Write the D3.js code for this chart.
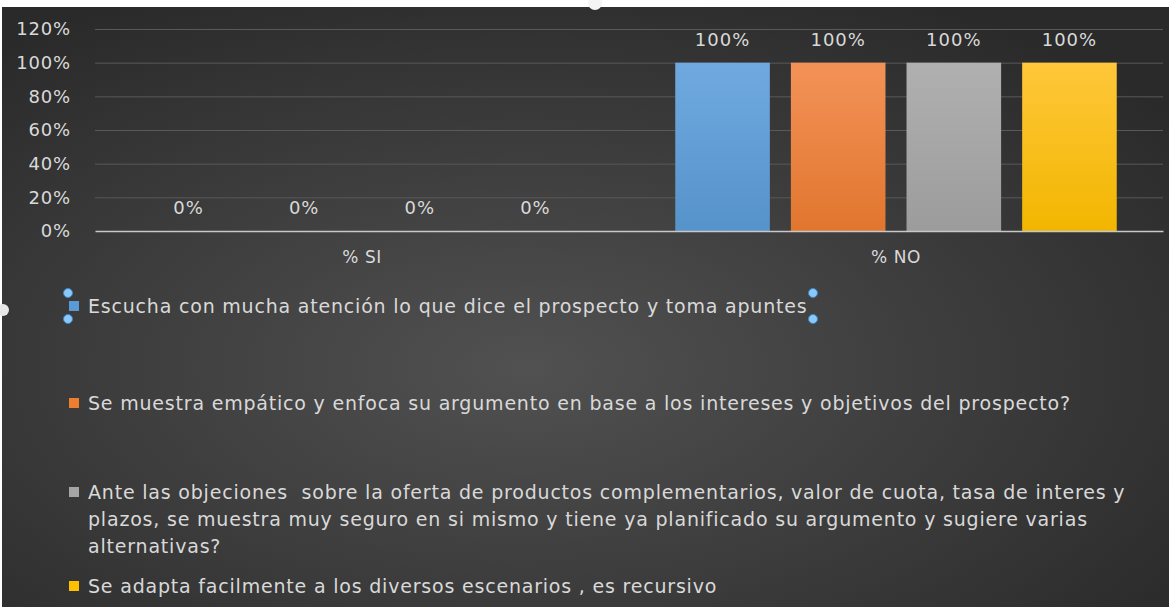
<!DOCTYPE html>
<html>
<head>
<meta charset="utf-8">
<script src="https://cdn.jsdelivr.net/npm/d3@7"></script>
<style>
  html, body { margin: 0; padding: 0; background: #ffffff; }
  svg { display: block; }
  text { font-family: "DejaVu Sans", "Open Sans", sans-serif; fill: #d9d9d9; }
</style>
</head>
<body>
<svg id="chart"></svg>
<script>
// Kategorien (x-Achse) und Serien (Legende)
const categories = ["% SI", "% NO"];
const seriesLabels = [
  "Escucha con mucha atención lo que dice el prospecto y toma apuntes",
  "Se muestra empático y enfoca su argumento en base a los intereses y objetivos del prospecto?",
  "Ante las objeciones  sobre la oferta de productos complementarios, valor de cuota, tasa de interes y plazos, se muestra muy seguro en si mismo y tiene ya planificado su argumento y sugiere varias alternativas?",
  "Se adapta facilmente a los diversos escenarios , es recursivo"
];
// Werte je Serie: [% SI, % NO]
const seriesValues = [
  [0, 1],
  [0, 1],
  [0, 1],
  [0, 1]
];
const yTicks = [0, 0.2, 0.4, 0.6, 0.8, 1.0, 1.2];

const W = 1169, H = 607;
const colors = ["#5b9bd5", "#ed7d31", "#a5a5a5", "#ffc000"];
const colorsTop = ["#6fa9e0", "#f39258", "#b0b0b0", "#ffc73a"];

const svg = d3.select("#chart").attr("width", W).attr("height", H);
const defs = svg.append("defs");

// Hintergrund (dunkler Radialverlauf)
const bg = defs.append("radialGradient").attr("id", "bg")
  .attr("cx", "45%").attr("cy", "60%").attr("r", "70%");
bg.append("stop").attr("offset", "0%").attr("stop-color", "#515151");
bg.append("stop").attr("offset", "100%").attr("stop-color", "#2a2a2a");

colors.forEach((c, i) => {
  const lg = defs.append("linearGradient").attr("id", "bar" + i)
    .attr("x1", 0).attr("y1", 0).attr("x2", 0).attr("y2", 1);
  lg.append("stop").attr("offset", "0%").attr("stop-color", colorsTop[i]);
  lg.append("stop").attr("offset", "100%").attr("stop-color", d3.color(c).darker(0.15));
});

svg.append("rect").attr("x", 2).attr("y", 7)
  .attr("width", W - 2).attr("height", H - 7)
  .attr("fill", "url(#bg)");

const margin = { top: 29, left: 95, right: 6, bottom: 376 };
const plotW = W - margin.left - margin.right;

const x0 = d3.scaleBand().domain(categories).range([margin.left, W - margin.right]).padding(0);
const x1 = d3.scaleBand().domain(d3.range(seriesValues.length))
  .range([0, x0.bandwidth()]).paddingInner(0.182).paddingOuter(0.4);
const y = d3.scaleLinear().domain([0, 1.2]).range([231, 29]);
const fmt = d3.format(".0%");

// Gitterlinien
const grid = svg.append("g")
  .attr("transform", `translate(${margin.left},0)`)
  .call(d3.axisLeft(y).tickValues(yTicks).tickSize(-plotW).tickFormat(""));
grid.select(".domain").remove();
grid.selectAll("line").attr("stroke", "#595959").attr("stroke-width", 1);
grid.selectAll(".tick").filter(d => d === 0).remove();

// y-Achse Beschriftung
const yAxis = svg.append("g")
  .attr("transform", `translate(${margin.left},0)`)
  .call(d3.axisLeft(y).tickValues(yTicks).tickSize(0).tickPadding(24).tickFormat(fmt));
yAxis.select(".domain").remove();
yAxis.selectAll("text")
  .attr("font-size", "18px")
  .attr("letter-spacing", "0.8px")
  .attr("fill", "#d9d9d9")
  .style("font-family", '"DejaVu Sans", sans-serif');

// Balken
const groups = svg.append("g").selectAll("g")
  .data(categories)
  .join("g")
  .attr("transform", c => `translate(${x0(c)},0)`);

groups.each(function(c, ci) {
  const g = d3.select(this);
  seriesValues.forEach((vals, si) => {
    const v = vals[ci];
    if (v > 0) {
      g.append("rect")
        .attr("x", x1(si))
        .attr("y", y(v))
        .attr("width", x1.bandwidth())
        .attr("height", y(0) - y(v))
        .attr("fill", `url(#bar${si})`);
    }
    g.append("text")
      .attr("x", x1(si) + x1.bandwidth() / 2)
      .attr("y", y(v) - 17)
      .attr("text-anchor", "middle")
      .attr("font-size", "18px")
      .attr("letter-spacing", "1px")
      .text(fmt(v));
  });
});

// x-Achse
const xAxis = svg.append("g")
  .attr("transform", `translate(0,${y(0)})`)
  .call(d3.axisBottom(x0).tickSize(0).tickPadding(20));
xAxis.select(".domain").attr("stroke", "#c8c8c8").attr("stroke-width", 1.5);
xAxis.selectAll("text")
  .attr("font-size", "17px")
  .attr("letter-spacing", "0.6px")
  .attr("fill", "#d9d9d9")
  .style("font-family", '"DejaVu Sans", sans-serif');

// Legende
const legendX = 69;
const legendTextX = 88;
const legendRowY = [306, 403, 492, 586];
const lineH = 27;
const wrapWidth = 1048;

const legend = svg.append("g");
seriesLabels.forEach((label, i) => {
  legend.append("rect")
    .attr("x", legendX).attr("y", legendRowY[i] - 5)
    .attr("width", 10).attr("height", 10)
    .attr("fill", colors[i]);
  const t = legend.append("text")
    .attr("font-size", "19px")
    .attr("letter-spacing", "0.8px")
    .style("white-space", "pre");
  // Zeilenumbruch nach Breite
  const words = label.split(" ");
  let line = [];
  let lineNo = 0;
  const newLine = () => t.append("tspan")
    .attr("x", legendTextX)
    .attr("y", legendRowY[i] + lineNo * lineH)
    .attr("dy", "0.35em");
  let tspan = newLine();
  words.forEach(w => {
    line.push(w);
    tspan.text(line.join(" "));
    if (tspan.node().getComputedTextLength() > wrapWidth && line.length > 1) {
      line.pop();
      tspan.text(line.join(" "));
      line = [w];
      lineNo++;
      tspan = newLine().text(w);
    }
  });
});

// Auswahlmarken (Bearbeitungsansicht)
const handles = svg.append("g");
[[68, 293], [68, 319], [813, 293], [813, 319]].forEach(([hx, hy]) => {
  handles.append("circle").attr("cx", hx).attr("cy", hy).attr("r", 4.5)
    .attr("fill", "#8cc8f7").attr("stroke", "#3a86c8").attr("stroke-width", 1);
});
handles.append("circle").attr("cx", 595).attr("cy", 3).attr("r", 7).attr("fill", "#f4f4f4");
handles.append("circle").attr("cx", 3).attr("cy", 310).attr("r", 6).attr("fill", "#e8e8e8");
</script>
</body>
</html>
